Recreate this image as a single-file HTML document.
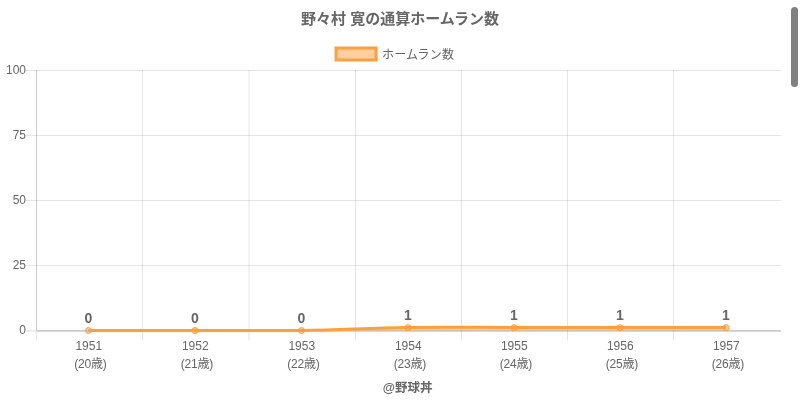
<!DOCTYPE html>
<html lang="ja"><head><meta charset="utf-8"><title>野々村 寛の通算ホームラン数</title>
<style>
html,body{margin:0;padding:0;background:#fff;overflow:hidden}
body{width:800px;height:400px;position:relative}
svg{position:absolute;left:0;top:0;display:block}
text{font-family:"Liberation Sans", "Noto Sans CJK JP", sans-serif;fill:#666}
.t{font-size:12px}
.b{font-weight:bold}
#sb{position:absolute;left:791px;top:7px;width:6.5px;height:80px;border-radius:3.5px;background:#808080}
</style></head><body>
<svg width="800" height="400" viewBox="0 0 800 400">
<g shape-rendering="auto"><line x1="142.5" y1="70.0" x2="142.5" y2="340.5" stroke="rgba(0,0,0,0.1)" stroke-width="1"/>
<line x1="249.0" y1="70.0" x2="249.0" y2="340.5" stroke="rgba(0,0,0,0.1)" stroke-width="1"/>
<line x1="355.5" y1="70.0" x2="355.5" y2="340.5" stroke="rgba(0,0,0,0.1)" stroke-width="1"/>
<line x1="461.5" y1="70.0" x2="461.5" y2="340.5" stroke="rgba(0,0,0,0.1)" stroke-width="1"/>
<line x1="567.5" y1="70.0" x2="567.5" y2="340.5" stroke="rgba(0,0,0,0.1)" stroke-width="1"/>
<line x1="673.5" y1="70.0" x2="673.5" y2="340.5" stroke="rgba(0,0,0,0.1)" stroke-width="1"/>
<line x1="26" y1="70.5" x2="781" y2="70.5" stroke="rgba(0,0,0,0.1)" stroke-width="1"/>
<line x1="26" y1="135.5" x2="781" y2="135.5" stroke="rgba(0,0,0,0.1)" stroke-width="1"/>
<line x1="26" y1="200.5" x2="781" y2="200.5" stroke="rgba(0,0,0,0.1)" stroke-width="1"/>
<line x1="26" y1="265.5" x2="781" y2="265.5" stroke="rgba(0,0,0,0.1)" stroke-width="1"/>
<rect x="36" y="70.0" width="1" height="260.0" fill="rgba(0,0,0,0.2)"/>
<rect x="36" y="332" width="1" height="8.7" fill="rgba(0,0,0,0.1)"/>
<rect x="26" y="330" width="10" height="1" fill="rgba(0,0,0,0.08)"/>
<rect x="26" y="331" width="10" height="1" fill="rgba(0,0,0,0.06)"/>
<rect x="36" y="330" width="745" height="1" fill="rgba(0,0,0,0.21)"/>
<rect x="36" y="331" width="745" height="1" fill="rgba(0,0,0,0.15)"/></g>
<text x="400" y="23.5" text-anchor="middle" class="b" style="font-size:15px">野々村 寛の通算ホームラン数</text>
<rect x="336" y="48" width="40" height="12" fill="rgba(255,159,64,0.5)" stroke="rgb(255,159,64)" stroke-width="3" stroke-linejoin="miter"/>
<text x="382.1" y="58.5" class="t" style="letter-spacing:0.15px">ホームラン数</text>
<text x="26" y="74.3" text-anchor="end" class="t">100</text>
<text x="26" y="139.4" text-anchor="end" class="t">75</text>
<text x="26" y="203.6" text-anchor="end" class="t">50</text>
<text x="26" y="268.7" text-anchor="end" class="t">25</text>
<text x="26" y="333.8" text-anchor="end" class="t">0</text>
<text x="88.80" y="349.5" text-anchor="middle" class="t">1951</text>
<text x="90.40" y="368" text-anchor="middle" class="t" style="letter-spacing:-0.25px">(20歳)</text>
<text x="195.30" y="349.5" text-anchor="middle" class="t">1952</text>
<text x="196.90" y="368" text-anchor="middle" class="t" style="letter-spacing:-0.25px">(21歳)</text>
<text x="301.80" y="349.5" text-anchor="middle" class="t">1953</text>
<text x="303.40" y="368" text-anchor="middle" class="t" style="letter-spacing:-0.25px">(22歳)</text>
<text x="408.30" y="349.5" text-anchor="middle" class="t">1954</text>
<text x="409.90" y="368" text-anchor="middle" class="t" style="letter-spacing:-0.25px">(23歳)</text>
<text x="514.30" y="349.5" text-anchor="middle" class="t">1955</text>
<text x="515.90" y="368" text-anchor="middle" class="t" style="letter-spacing:-0.25px">(24歳)</text>
<text x="620.30" y="349.5" text-anchor="middle" class="t">1956</text>
<text x="621.90" y="368" text-anchor="middle" class="t" style="letter-spacing:-0.25px">(25歳)</text>
<text x="726.30" y="349.5" text-anchor="middle" class="t">1957</text>
<text x="727.90" y="368" text-anchor="middle" class="t" style="letter-spacing:-0.25px">(26歳)</text>
<path d="M88.50,330.50 C131.10,330.50 152.40,330.50 195.00,330.50 C237.60,330.50 258.91,330.50 301.50,330.50 C344.11,329.90 365.39,328.10 408.00,327.50 C450.39,326.90 471.60,327.50 514.00,327.50 C556.40,327.50 577.60,327.50 620.00,327.50 C662.40,327.50 683.60,327.50 726.00,327.50 L726.00,330.5 L88.50,330.5 Z" fill="rgba(255,159,64,0.5)" stroke="none"/>
<path d="M88.50,330.50 C131.10,330.50 152.40,330.50 195.00,330.50 C237.60,330.50 258.91,330.50 301.50,330.50 C344.11,329.90 365.39,328.10 408.00,327.50 C450.39,326.90 471.60,327.50 514.00,327.50 C556.40,327.50 577.60,327.50 620.00,327.50 C662.40,327.50 683.60,327.50 726.00,327.50" fill="none" stroke="rgb(255,159,64)" stroke-width="3" stroke-linejoin="miter" stroke-linecap="butt"/>
<circle cx="88.50" cy="330.50" r="3" fill="rgba(255,159,64,0.5)" stroke="rgb(255,159,64)" stroke-width="1"/>
<circle cx="195.00" cy="330.50" r="3" fill="rgba(255,159,64,0.5)" stroke="rgb(255,159,64)" stroke-width="1"/>
<circle cx="301.50" cy="330.50" r="3" fill="rgba(255,159,64,0.5)" stroke="rgb(255,159,64)" stroke-width="1"/>
<circle cx="408.00" cy="327.70" r="3" fill="rgba(255,159,64,0.5)" stroke="rgb(255,159,64)" stroke-width="1"/>
<circle cx="514.00" cy="327.70" r="3" fill="rgba(255,159,64,0.5)" stroke="rgb(255,159,64)" stroke-width="1"/>
<circle cx="620.00" cy="327.70" r="3" fill="rgba(255,159,64,0.5)" stroke="rgb(255,159,64)" stroke-width="1"/>
<circle cx="726.00" cy="327.70" r="3" fill="rgba(255,159,64,0.5)" stroke="rgb(255,159,64)" stroke-width="1"/>
<text x="88.50" y="322.9" text-anchor="middle" class="b" style="font-size:14px">0</text>
<text x="195.00" y="322.9" text-anchor="middle" class="b" style="font-size:14px">0</text>
<text x="301.50" y="322.9" text-anchor="middle" class="b" style="font-size:14px">0</text>
<text x="408.00" y="319.8" text-anchor="middle" class="b" style="font-size:14px">1</text>
<text x="514.00" y="319.8" text-anchor="middle" class="b" style="font-size:14px">1</text>
<text x="620.00" y="319.8" text-anchor="middle" class="b" style="font-size:14px">1</text>
<text x="726.00" y="319.8" text-anchor="middle" class="b" style="font-size:14px">1</text>
<text x="407.7" y="391.5" text-anchor="middle" class="b" style="font-size:12.5px">@野球丼</text>
</svg>
<div id="sb"></div>
</body></html>
